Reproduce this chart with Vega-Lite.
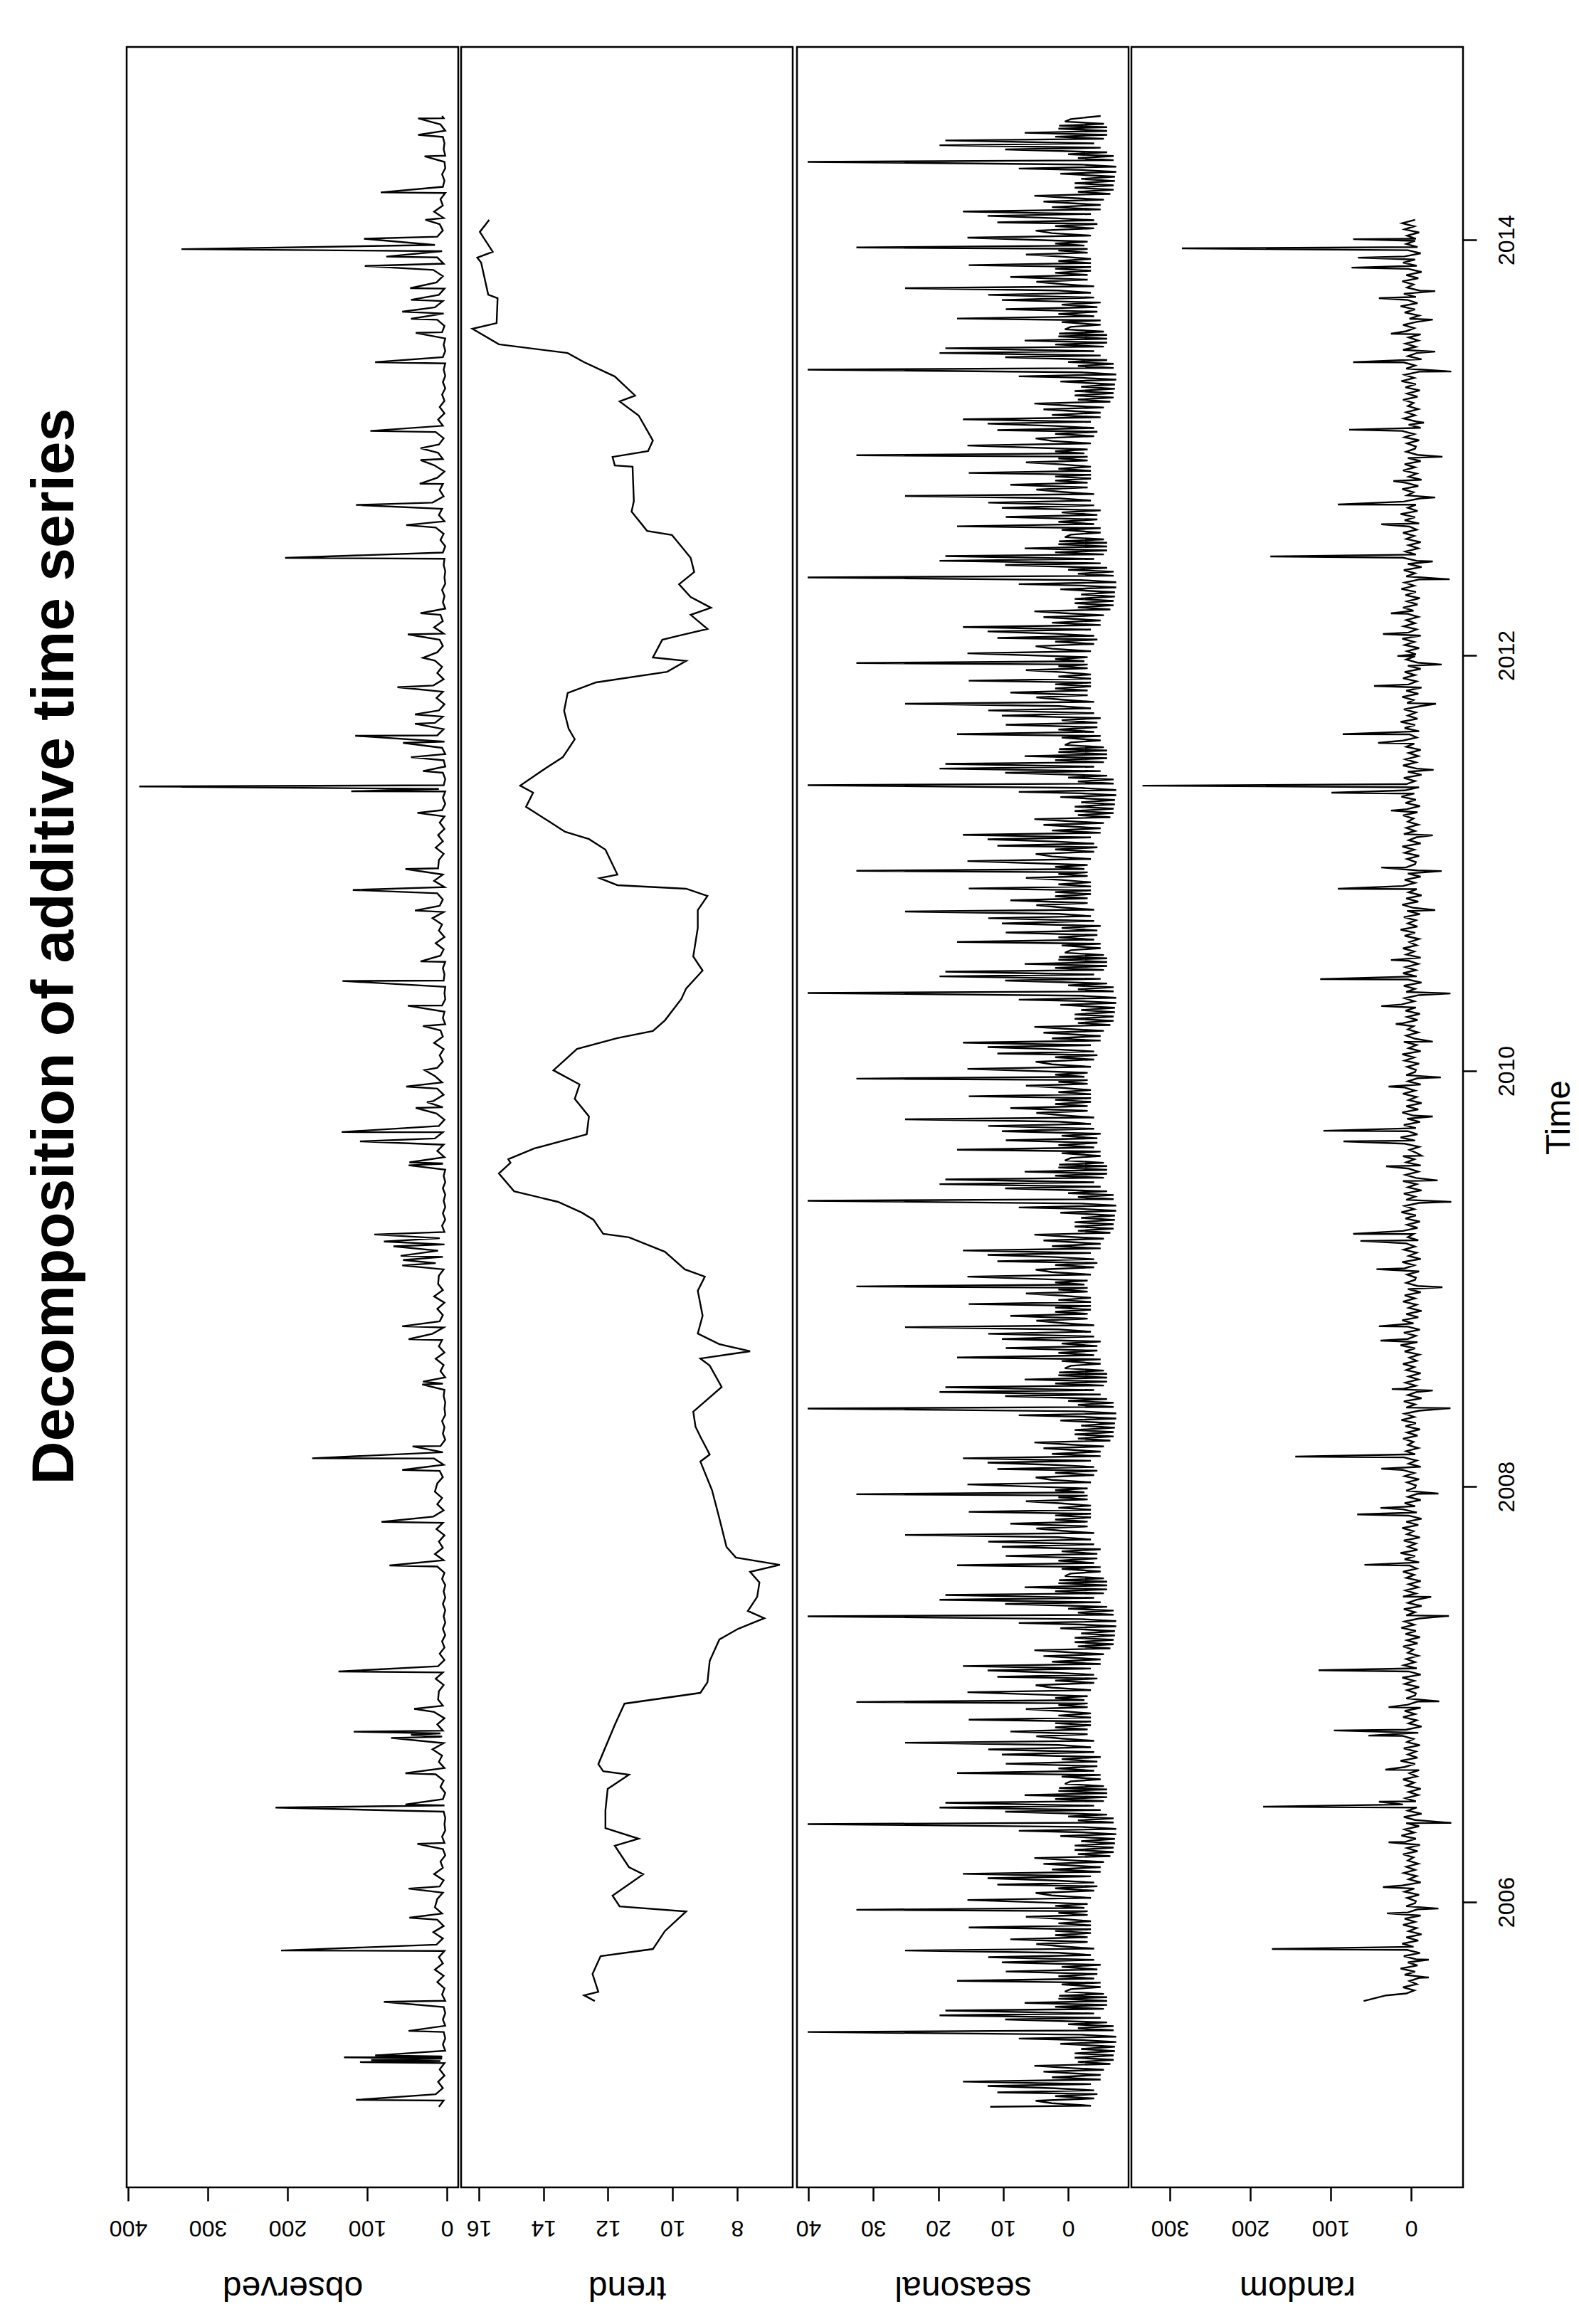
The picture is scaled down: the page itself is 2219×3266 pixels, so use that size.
{
"$schema":"https://vega.github.io/schema/vega-lite/v6.json",
"background":"white",
"padding":{"left":36,"top":64,"right":10,"bottom":30},
"title":{"text":"Decomposition of additive time series","orient":"left","anchor":"middle","frame":"group","font":"Liberation Sans","fontSize":84,"fontWeight":"bold","color":"black","baseline":"alphabetic","offset":-35,"dx":240},
"spacing":0,
"config":{"font":"Liberation Sans","view":{"stroke":"black","strokeWidth":2.5},"axis":{"grid":false,"domain":false,"ticks":true,"tickColor":"black","tickWidth":2.5,"tickSize":19,"labelColor":"black","titleColor":"black","labelFont":"Liberation Sans","titleFont":"Liberation Sans","labelFontSize":32,"titleFontSize":48,"titleFontWeight":"normal","labelFlush":false,"labelOverlap":false}},
"datasets":{
"trend":[{"t":2005.524,"v":12.41},{"t":2005.551,"v":12.74},{"t":2005.568,"v":12.3},{"t":2005.654,"v":12.48},{"t":2005.74,"v":12.23},{"t":2005.774,"v":10.61},{"t":2005.86,"v":10.24},{"t":2005.955,"v":9.58},{"t":2005.979,"v":11.64},{"t":2006.031,"v":11.86},{"t":2006.134,"v":10.91},{"t":2006.168,"v":11.35},{"t":2006.271,"v":11.79},{"t":2006.305,"v":11.05},{"t":2006.356,"v":12.08},{"t":2006.442,"v":12.08},{"t":2006.545,"v":12.01},{"t":2006.613,"v":11.35},{"t":2006.63,"v":12.15},{"t":2006.664,"v":12.3},{"t":2006.853,"v":11.79},{"t":2006.955,"v":11.49},{"t":2007.007,"v":9.14},{"t":2007.058,"v":8.92},{"t":2007.161,"v":8.85},{"t":2007.264,"v":8.55},{"t":2007.315,"v":7.97},{"t":2007.366,"v":7.16},{"t":2007.401,"v":7.67},{"t":2007.469,"v":7.38},{"t":2007.538,"v":7.31},{"t":2007.589,"v":7.6},{"t":2007.623,"v":6.68},{"t":2007.658,"v":8.04},{"t":2007.709,"v":8.33},{"t":2007.846,"v":8.55},{"t":2007.983,"v":8.78},{"t":2008.12,"v":9.14},{"t":2008.154,"v":8.85},{"t":2008.24,"v":9.14},{"t":2008.288,"v":9.29},{"t":2008.36,"v":9.36},{"t":2008.479,"v":8.48},{"t":2008.582,"v":8.85},{"t":2008.616,"v":9.14},{"t":2008.651,"v":7.6},{"t":2008.685,"v":8.55},{"t":2008.736,"v":9.22},{"t":2008.822,"v":9.07},{"t":2008.942,"v":9.22},{"t":2009.01,"v":9.0},{"t":2009.045,"v":9.62},{"t":2009.13,"v":10.24},{"t":2009.199,"v":11.35},{"t":2009.216,"v":12.15},{"t":2009.284,"v":12.45},{"t":2009.318,"v":12.81},{"t":2009.37,"v":13.55},{"t":2009.421,"v":14.91},{"t":2009.507,"v":15.38},{"t":2009.558,"v":15.02},{"t":2009.575,"v":15.09},{"t":2009.627,"v":14.28},{"t":2009.695,"v":12.66},{"t":2009.781,"v":12.59},{"t":2009.866,"v":13.03},{"t":2009.935,"v":12.88},{"t":2010.003,"v":13.69},{"t":2010.106,"v":12.96},{"t":2010.158,"v":11.71},{"t":2010.192,"v":10.61},{"t":2010.243,"v":10.24},{"t":2010.346,"v":9.73},{"t":2010.397,"v":9.58},{"t":2010.483,"v":9.07},{"t":2010.551,"v":9.36},{"t":2010.688,"v":9.22},{"t":2010.774,"v":9.22},{"t":2010.842,"v":8.92},{"t":2010.877,"v":9.58},{"t":2010.894,"v":11.71},{"t":2010.928,"v":12.26},{"t":2010.945,"v":11.71},{"t":2011.065,"v":12.08},{"t":2011.116,"v":12.59},{"t":2011.151,"v":13.33},{"t":2011.202,"v":13.84},{"t":2011.271,"v":14.54},{"t":2011.339,"v":14.32},{"t":2011.373,"v":14.72},{"t":2011.459,"v":13.91},{"t":2011.51,"v":13.4},{"t":2011.596,"v":13.03},{"t":2011.647,"v":13.22},{"t":2011.733,"v":13.36},{"t":2011.819,"v":13.25},{"t":2011.87,"v":12.37},{"t":2011.921,"v":10.17},{"t":2011.973,"v":9.58},{"t":2011.99,"v":10.61},{"t":2012.075,"v":10.32},{"t":2012.092,"v":9.88},{"t":2012.127,"v":8.92},{"t":2012.195,"v":9.44},{"t":2012.229,"v":8.81},{"t":2012.281,"v":9.44},{"t":2012.342,"v":9.8},{"t":2012.401,"v":9.33},{"t":2012.469,"v":9.44},{"t":2012.538,"v":9.8},{"t":2012.579,"v":10.02},{"t":2012.599,"v":10.79},{"t":2012.692,"v":11.27},{"t":2012.743,"v":11.2},{"t":2012.908,"v":11.24},{"t":2012.914,"v":11.79},{"t":2012.955,"v":11.86},{"t":2012.983,"v":10.76},{"t":2013.034,"v":10.61},{"t":2013.154,"v":11.05},{"t":2013.222,"v":11.64},{"t":2013.25,"v":11.16},{"t":2013.342,"v":11.79},{"t":2013.411,"v":12.74},{"t":2013.455,"v":13.25},{"t":2013.497,"v":15.38},{"t":2013.572,"v":16.2},{"t":2013.599,"v":15.45},{"t":2013.719,"v":15.42},{"t":2013.736,"v":15.71},{"t":2013.89,"v":15.93},{"t":2013.914,"v":16.05},{"t":2013.942,"v":15.57},{"t":2014.038,"v":15.97},{"t":2014.096,"v":15.68}],
"observed":[
{"t":2005.015,"v":10},{"t":2005.045,"v":4},{"t":2005.075,"v":14},{"t":2005.105,"v":5},{"t":2005.135,"v":11},{"t":2005.165,"v":3},{"t":2005.195,"v":9},{"t":2005.225,"v":3},{"t":2005.255,"v":6},{"t":2005.285,"v":2},{"t":2005.315,"v":5},{"t":2005.345,"v":2},{"t":2005.375,"v":4},{"t":2005.405,"v":2},{"t":2005.435,"v":5},{"t":2005.465,"v":2},{"t":2005.495,"v":4},{"t":2005.525,"v":2},{"t":2005.555,"v":6},{"t":2005.585,"v":3},{"t":2005.615,"v":12},{"t":2005.645,"v":4},{"t":2005.675,"v":15},{"t":2005.705,"v":5},{"t":2005.735,"v":10},{"t":2005.765,"v":3},{"t":2005.795,"v":13},{"t":2005.825,"v":5},{"t":2005.855,"v":17},{"t":2005.885,"v":4},{"t":2005.915,"v":12},{"t":2005.945,"v":6},{"t":2005.975,"v":15},
{"t":2006.015,"v":12},{"t":2006.045,"v":5},{"t":2006.075,"v":9},{"t":2006.105,"v":4},{"t":2006.135,"v":16},{"t":2006.165,"v":5},{"t":2006.195,"v":8},{"t":2006.225,"v":2},{"t":2006.255,"v":5},{"t":2006.285,"v":3},{"t":2006.315,"v":6},{"t":2006.345,"v":2},{"t":2006.375,"v":3},{"t":2006.405,"v":2},{"t":2006.435,"v":4},{"t":2006.465,"v":3},{"t":2006.495,"v":5},{"t":2006.525,"v":2},{"t":2006.555,"v":8},{"t":2006.585,"v":4},{"t":2006.615,"v":14},{"t":2006.645,"v":3},{"t":2006.675,"v":10},{"t":2006.705,"v":6},{"t":2006.735,"v":18},{"t":2006.765,"v":4},{"t":2006.795,"v":9},{"t":2006.825,"v":5},{"t":2006.855,"v":12},{"t":2006.885,"v":3},{"t":2006.915,"v":16},{"t":2006.945,"v":5},{"t":2006.975,"v":11},
{"t":2007.015,"v":10},{"t":2007.045,"v":4},{"t":2007.075,"v":14},{"t":2007.105,"v":5},{"t":2007.135,"v":11},{"t":2007.165,"v":3},{"t":2007.195,"v":9},{"t":2007.225,"v":3},{"t":2007.255,"v":6},{"t":2007.285,"v":2},{"t":2007.315,"v":5},{"t":2007.345,"v":2},{"t":2007.375,"v":4},{"t":2007.405,"v":2},{"t":2007.435,"v":5},{"t":2007.465,"v":2},{"t":2007.495,"v":4},{"t":2007.525,"v":2},{"t":2007.555,"v":6},{"t":2007.585,"v":3},{"t":2007.615,"v":12},{"t":2007.645,"v":4},{"t":2007.675,"v":15},{"t":2007.705,"v":5},{"t":2007.735,"v":10},{"t":2007.765,"v":3},{"t":2007.795,"v":13},{"t":2007.825,"v":5},{"t":2007.855,"v":17},{"t":2007.885,"v":4},{"t":2007.915,"v":12},{"t":2007.945,"v":6},{"t":2007.975,"v":15},
{"t":2008.015,"v":12},{"t":2008.045,"v":5},{"t":2008.075,"v":9},{"t":2008.105,"v":4},{"t":2008.135,"v":16},{"t":2008.165,"v":5},{"t":2008.195,"v":8},{"t":2008.225,"v":2},{"t":2008.255,"v":5},{"t":2008.285,"v":3},{"t":2008.315,"v":6},{"t":2008.345,"v":2},{"t":2008.375,"v":3},{"t":2008.405,"v":2},{"t":2008.435,"v":4},{"t":2008.465,"v":3},{"t":2008.495,"v":5},{"t":2008.525,"v":2},{"t":2008.555,"v":8},{"t":2008.585,"v":4},{"t":2008.615,"v":14},{"t":2008.645,"v":3},{"t":2008.675,"v":10},{"t":2008.705,"v":6},{"t":2008.735,"v":18},{"t":2008.765,"v":4},{"t":2008.795,"v":9},{"t":2008.825,"v":5},{"t":2008.855,"v":12},{"t":2008.885,"v":3},{"t":2008.915,"v":16},{"t":2008.945,"v":5},{"t":2008.975,"v":11},
{"t":2009.015,"v":10},{"t":2009.045,"v":4},{"t":2009.075,"v":14},{"t":2009.105,"v":5},{"t":2009.135,"v":11},{"t":2009.165,"v":3},{"t":2009.195,"v":9},{"t":2009.225,"v":3},{"t":2009.255,"v":6},{"t":2009.285,"v":2},{"t":2009.315,"v":5},{"t":2009.345,"v":2},{"t":2009.375,"v":4},{"t":2009.405,"v":2},{"t":2009.435,"v":5},{"t":2009.465,"v":2},{"t":2009.495,"v":4},{"t":2009.525,"v":2},{"t":2009.555,"v":6},{"t":2009.585,"v":3},{"t":2009.615,"v":12},{"t":2009.645,"v":4},{"t":2009.675,"v":15},{"t":2009.705,"v":5},{"t":2009.735,"v":10},{"t":2009.765,"v":3},{"t":2009.795,"v":13},{"t":2009.825,"v":5},{"t":2009.855,"v":17},{"t":2009.885,"v":4},{"t":2009.915,"v":12},{"t":2009.945,"v":6},{"t":2009.975,"v":15},
{"t":2010.015,"v":12},{"t":2010.045,"v":5},{"t":2010.075,"v":9},{"t":2010.105,"v":4},{"t":2010.135,"v":16},{"t":2010.165,"v":5},{"t":2010.195,"v":8},{"t":2010.225,"v":2},{"t":2010.255,"v":5},{"t":2010.285,"v":3},{"t":2010.315,"v":6},{"t":2010.345,"v":2},{"t":2010.375,"v":3},{"t":2010.405,"v":2},{"t":2010.435,"v":4},{"t":2010.465,"v":3},{"t":2010.495,"v":5},{"t":2010.525,"v":2},{"t":2010.555,"v":8},{"t":2010.585,"v":4},{"t":2010.615,"v":14},{"t":2010.645,"v":3},{"t":2010.675,"v":10},{"t":2010.705,"v":6},{"t":2010.735,"v":18},{"t":2010.765,"v":4},{"t":2010.795,"v":9},{"t":2010.825,"v":5},{"t":2010.855,"v":12},{"t":2010.885,"v":3},{"t":2010.915,"v":16},{"t":2010.945,"v":5},{"t":2010.975,"v":11},
{"t":2011.015,"v":10},{"t":2011.045,"v":4},{"t":2011.075,"v":14},{"t":2011.105,"v":5},{"t":2011.135,"v":11},{"t":2011.165,"v":3},{"t":2011.195,"v":9},{"t":2011.225,"v":3},{"t":2011.255,"v":6},{"t":2011.285,"v":2},{"t":2011.315,"v":5},{"t":2011.345,"v":2},{"t":2011.375,"v":4},{"t":2011.405,"v":2},{"t":2011.435,"v":5},{"t":2011.465,"v":2},{"t":2011.495,"v":4},{"t":2011.525,"v":2},{"t":2011.555,"v":6},{"t":2011.585,"v":3},{"t":2011.615,"v":12},{"t":2011.645,"v":4},{"t":2011.675,"v":15},{"t":2011.705,"v":5},{"t":2011.735,"v":10},{"t":2011.765,"v":3},{"t":2011.795,"v":13},{"t":2011.825,"v":5},{"t":2011.855,"v":17},{"t":2011.885,"v":4},{"t":2011.915,"v":12},{"t":2011.945,"v":6},{"t":2011.975,"v":15},
{"t":2012.015,"v":12},{"t":2012.045,"v":5},{"t":2012.075,"v":9},{"t":2012.105,"v":4},{"t":2012.135,"v":16},{"t":2012.165,"v":5},{"t":2012.195,"v":8},{"t":2012.225,"v":2},{"t":2012.255,"v":5},{"t":2012.285,"v":3},{"t":2012.315,"v":6},{"t":2012.345,"v":2},{"t":2012.375,"v":3},{"t":2012.405,"v":2},{"t":2012.435,"v":4},{"t":2012.465,"v":3},{"t":2012.495,"v":5},{"t":2012.525,"v":2},{"t":2012.555,"v":8},{"t":2012.585,"v":4},{"t":2012.615,"v":14},{"t":2012.645,"v":3},{"t":2012.675,"v":10},{"t":2012.705,"v":6},{"t":2012.735,"v":18},{"t":2012.765,"v":4},{"t":2012.795,"v":9},{"t":2012.825,"v":5},{"t":2012.855,"v":12},{"t":2012.885,"v":3},{"t":2012.915,"v":16},{"t":2012.945,"v":5},{"t":2012.975,"v":11},
{"t":2013.015,"v":10},{"t":2013.045,"v":4},{"t":2013.075,"v":14},{"t":2013.105,"v":5},{"t":2013.135,"v":11},{"t":2013.165,"v":3},{"t":2013.195,"v":9},{"t":2013.225,"v":3},{"t":2013.255,"v":6},{"t":2013.285,"v":2},{"t":2013.315,"v":5},{"t":2013.345,"v":2},{"t":2013.375,"v":4},{"t":2013.405,"v":2},{"t":2013.435,"v":5},{"t":2013.465,"v":2},{"t":2013.495,"v":4},{"t":2013.525,"v":2},{"t":2013.555,"v":6},{"t":2013.585,"v":3},{"t":2013.615,"v":12},{"t":2013.645,"v":4},{"t":2013.675,"v":15},{"t":2013.705,"v":5},{"t":2013.735,"v":10},{"t":2013.765,"v":3},{"t":2013.795,"v":13},{"t":2013.825,"v":5},{"t":2013.855,"v":17},{"t":2013.885,"v":4},{"t":2013.915,"v":12},{"t":2013.945,"v":6},{"t":2013.975,"v":15},
{"t":2014.015,"v":12},{"t":2014.045,"v":5},{"t":2014.075,"v":9},{"t":2014.105,"v":4},{"t":2014.135,"v":16},{"t":2014.165,"v":5},{"t":2014.195,"v":8},{"t":2014.225,"v":2},{"t":2014.255,"v":5},{"t":2014.285,"v":3},{"t":2014.315,"v":6},{"t":2014.345,"v":2},{"t":2014.375,"v":3},{"t":2014.405,"v":2},{"t":2014.435,"v":4},{"t":2014.465,"v":3},{"t":2014.495,"v":5},{"t":2014.525,"v":2},{"t":2014.555,"v":8},{"t":2014.585,"v":4},{"t":2014.596,"v":6},
{"t":2005.048,"v":114},{"t":2005.23,"v":109},{"t":2005.235,"v":8},{"t":2005.24,"v":95},{"t":2005.247,"v":6},{"t":2005.253,"v":129},{"t":2005.257,"v":7},{"t":2005.262,"v":90},{"t":2005.38,"v":48},{"t":2005.52,"v":79},{"t":2005.767,"v":208},{"t":2005.925,"v":47},{"t":2006.065,"v":48},{"t":2006.28,"v":37},{"t":2006.455,"v":215},{"t":2006.47,"v":52},{"t":2006.62,"v":52},{"t":2006.79,"v":70},{"t":2006.797,"v":6},{"t":2006.805,"v":45},{"t":2006.812,"v":8},{"t":2006.82,"v":117},{"t":2006.93,"v":41},{"t":2007.11,"v":136},{"t":2007.62,"v":72},{"t":2007.83,"v":82},{"t":2008.08,"v":56},{"t":2008.136,"v":169},{"t":2008.193,"v":43},{"t":2008.491,"v":31},{"t":2008.505,"v":30},{"t":2008.709,"v":48},{"t":2008.771,"v":56},{"t":2009.064,"v":56},{"t":2009.09,"v":55},{"t":2009.11,"v":58},{"t":2009.156,"v":67},{"t":2009.179,"v":79},{"t":2009.213,"v":91},{"t":2009.546,"v":48},{"t":2009.553,"v":6},{"t":2009.56,"v":47},{"t":2009.661,"v":109},{"t":2009.706,"v":132},{"t":2009.822,"v":39},{"t":2009.85,"v":25},{"t":2009.925,"v":51},{"t":2010.004,"v":28},{"t":2010.216,"v":30},{"t":2010.314,"v":49},{"t":2010.433,"v":131},{"t":2010.527,"v":33},{"t":2010.772,"v":40},{"t":2010.871,"v":118},{"t":2010.972,"v":52},{"t":2011.242,"v":37},{"t":2011.346,"v":120},{"t":2011.357,"v":10},{"t":2011.369,"v":386},{"t":2011.443,"v":30},{"t":2011.51,"v":45},{"t":2011.579,"v":55},{"t":2011.613,"v":115},{"t":2011.671,"v":40},{"t":2011.716,"v":40},{"t":2011.847,"v":62},{"t":2011.988,"v":30},{"t":2012.101,"v":49},{"t":2012.203,"v":33},{"t":2012.469,"v":203},{"t":2012.627,"v":51},{"t":2012.724,"v":114},{"t":2012.826,"v":34},{"t":2012.94,"v":33},{"t":2012.997,"v":33},{"t":2013.08,"v":96},{"t":2013.411,"v":90},{"t":2013.552,"v":39},{"t":2013.62,"v":45},{"t":2013.654,"v":56},{"t":2013.711,"v":45},{"t":2013.767,"v":46},{"t":2013.874,"v":103},{"t":2013.919,"v":76},{"t":2013.955,"v":333},{"t":2014.005,"v":104},{"t":2014.096,"v":27},{"t":2014.228,"v":83},{"t":2014.402,"v":28},{"t":2014.505,"v":36},{"t":2014.584,"v":36}],
"seasonal":[
{"t":2005.015,"v":12},{"t":2005.02,"v":-3.5},{"t":2005.032,"v":2.5},{"t":2005.044,"v":5},{"t":2005.055,"v":-4},{"t":2005.066,"v":2},{"t":2005.076,"v":-4.5},{"t":2005.084,"v":10.9},{"t":2005.094,"v":-4},{"t":2005.104,"v":2},{"t":2005.115,"v":12.4},{"t":2005.124,"v":-3.5},{"t":2005.136,"v":16.2},{"t":2005.146,"v":-5},{"t":2005.157,"v":2.5},{"t":2005.168,"v":-5},{"t":2005.184,"v":3.8},{"t":2005.193,"v":-5.5},{"t":2005.202,"v":0},{"t":2005.212,"v":5.2},{"t":2005.221,"v":-6.5},{"t":2005.231,"v":-1.5},{"t":2005.241,"v":-7},{"t":2005.251,"v":-1},{"t":2005.262,"v":-7},{"t":2005.272,"v":-1},{"t":2005.283,"v":-7.2},{"t":2005.293,"v":-2},{"t":2005.304,"v":-7.2},{"t":2005.318,"v":1.2},{"t":2005.327,"v":-7.4},{"t":2005.336,"v":-2},{"t":2005.343,"v":7.6},{"t":2005.352,"v":-7.4},{"t":2005.362,"v":-2},{"t":2005.375,"v":40.1},{"t":2005.383,"v":-7},{"t":2005.393,"v":-1.5},{"t":2005.403,"v":-7},{"t":2005.412,"v":0},{"t":2005.421,"v":-6},{"t":2005.435,"v":9.7},{"t":2005.443,"v":-5},{"t":2005.455,"v":19.8},{"t":2005.464,"v":-4},{"t":2005.478,"v":18.9},{"t":2005.486,"v":-5.5},{"t":2005.496,"v":2},{"t":2005.505,"v":-6},{"t":2005.515,"v":6.7},{"t":2005.524,"v":-6},{"t":2005.535,"v":1.5},{"t":2005.542,"v":-6},{"t":2005.549,"v":1.4},{"t":2005.558,"v":-5.5},{"t":2005.569,"v":0.5},{"t":2005.581,"v":-0.4},{"t":2005.591,"v":-5},{"t":2005.604,"v":1},{"t":2005.612,"v":-5},{"t":2005.621,"v":17.1},{"t":2005.632,"v":-4},{"t":2005.643,"v":1.5},{"t":2005.654,"v":-4.5},{"t":2005.666,"v":9.6},{"t":2005.676,"v":-4.5},{"t":2005.688,"v":1},{"t":2005.698,"v":-5},{"t":2005.71,"v":10.2},{"t":2005.722,"v":-4},{"t":2005.735,"v":12.3},{"t":2005.745,"v":-3.5},{"t":2005.756,"v":1.5},{"t":2005.767,"v":25.1},{"t":2005.776,"v":-4},{"t":2005.787,"v":1},{"t":2005.798,"v":4.9},{"t":2005.808,"v":-3},{"t":2005.821,"v":8.9},{"t":2005.831,"v":-3},{"t":2005.841,"v":2},{"t":2005.851,"v":-3.5},{"t":2005.861,"v":2},{"t":2005.869,"v":-3.5},{"t":2005.878,"v":15.3},{"t":2005.888,"v":-3.5},{"t":2005.898,"v":1.5},{"t":2005.908,"v":-3.5},{"t":2005.919,"v":1},{"t":2005.929,"v":6.5},{"t":2005.938,"v":-3},{"t":2005.948,"v":1.5},{"t":2005.956,"v":-3},{"t":2005.963,"v":32.6},{"t":2005.972,"v":-2.5},{"t":2005.982,"v":2},{"t":2005.991,"v":-3},
{"t":2006.01,"v":15.5},{"t":2006.02,"v":-3.5},{"t":2006.032,"v":2.5},{"t":2006.044,"v":5},{"t":2006.055,"v":-4},{"t":2006.066,"v":2},{"t":2006.076,"v":-4.5},{"t":2006.084,"v":10.9},{"t":2006.094,"v":-4},{"t":2006.104,"v":2},{"t":2006.115,"v":12.4},{"t":2006.124,"v":-3.5},{"t":2006.136,"v":16.2},{"t":2006.146,"v":-5},{"t":2006.157,"v":2.5},{"t":2006.168,"v":-5},{"t":2006.184,"v":3.8},{"t":2006.193,"v":-5.5},{"t":2006.202,"v":0},{"t":2006.212,"v":5.2},{"t":2006.221,"v":-6.5},{"t":2006.231,"v":-1.5},{"t":2006.241,"v":-7},{"t":2006.251,"v":-1},{"t":2006.262,"v":-7},{"t":2006.272,"v":-1},{"t":2006.283,"v":-7.2},{"t":2006.293,"v":-2},{"t":2006.304,"v":-7.2},{"t":2006.318,"v":1.2},{"t":2006.327,"v":-7.4},{"t":2006.336,"v":-2},{"t":2006.343,"v":7.6},{"t":2006.352,"v":-7.4},{"t":2006.362,"v":-2},{"t":2006.375,"v":40.1},{"t":2006.383,"v":-7},{"t":2006.393,"v":-1.5},{"t":2006.403,"v":-7},{"t":2006.412,"v":0},{"t":2006.421,"v":-6},{"t":2006.435,"v":9.7},{"t":2006.443,"v":-5},{"t":2006.455,"v":19.8},{"t":2006.464,"v":-4},{"t":2006.478,"v":18.9},{"t":2006.486,"v":-5.5},{"t":2006.496,"v":2},{"t":2006.505,"v":-6},{"t":2006.515,"v":6.7},{"t":2006.524,"v":-6},{"t":2006.535,"v":1.5},{"t":2006.542,"v":-6},{"t":2006.549,"v":1.4},{"t":2006.558,"v":-5.5},{"t":2006.569,"v":0.5},{"t":2006.581,"v":-0.4},{"t":2006.591,"v":-5},{"t":2006.604,"v":1},{"t":2006.612,"v":-5},{"t":2006.621,"v":17.1},{"t":2006.632,"v":-4},{"t":2006.643,"v":1.5},{"t":2006.654,"v":-4.5},{"t":2006.666,"v":9.6},{"t":2006.676,"v":-4.5},{"t":2006.688,"v":1},{"t":2006.698,"v":-5},{"t":2006.71,"v":10.2},{"t":2006.722,"v":-4},{"t":2006.735,"v":12.3},{"t":2006.745,"v":-3.5},{"t":2006.756,"v":1.5},{"t":2006.767,"v":25.1},{"t":2006.776,"v":-4},{"t":2006.787,"v":1},{"t":2006.798,"v":4.9},{"t":2006.808,"v":-3},{"t":2006.821,"v":8.9},{"t":2006.831,"v":-3},{"t":2006.841,"v":2},{"t":2006.851,"v":-3.5},{"t":2006.861,"v":2},{"t":2006.869,"v":-3.5},{"t":2006.878,"v":15.3},{"t":2006.888,"v":-3.5},{"t":2006.898,"v":1.5},{"t":2006.908,"v":-3.5},{"t":2006.919,"v":1},{"t":2006.929,"v":6.5},{"t":2006.938,"v":-3},{"t":2006.948,"v":1.5},{"t":2006.956,"v":-3},{"t":2006.963,"v":32.6},{"t":2006.972,"v":-2.5},{"t":2006.982,"v":2},{"t":2006.991,"v":-3},
{"t":2007.01,"v":15.5},{"t":2007.02,"v":-3.5},{"t":2007.032,"v":2.5},{"t":2007.044,"v":5},{"t":2007.055,"v":-4},{"t":2007.066,"v":2},{"t":2007.076,"v":-4.5},{"t":2007.084,"v":10.9},{"t":2007.094,"v":-4},{"t":2007.104,"v":2},{"t":2007.115,"v":12.4},{"t":2007.124,"v":-3.5},{"t":2007.136,"v":16.2},{"t":2007.146,"v":-5},{"t":2007.157,"v":2.5},{"t":2007.168,"v":-5},{"t":2007.184,"v":3.8},{"t":2007.193,"v":-5.5},{"t":2007.202,"v":0},{"t":2007.212,"v":5.2},{"t":2007.221,"v":-6.5},{"t":2007.231,"v":-1.5},{"t":2007.241,"v":-7},{"t":2007.251,"v":-1},{"t":2007.262,"v":-7},{"t":2007.272,"v":-1},{"t":2007.283,"v":-7.2},{"t":2007.293,"v":-2},{"t":2007.304,"v":-7.2},{"t":2007.318,"v":1.2},{"t":2007.327,"v":-7.4},{"t":2007.336,"v":-2},{"t":2007.343,"v":7.6},{"t":2007.352,"v":-7.4},{"t":2007.362,"v":-2},{"t":2007.375,"v":40.1},{"t":2007.383,"v":-7},{"t":2007.393,"v":-1.5},{"t":2007.403,"v":-7},{"t":2007.412,"v":0},{"t":2007.421,"v":-6},{"t":2007.435,"v":9.7},{"t":2007.443,"v":-5},{"t":2007.455,"v":19.8},{"t":2007.464,"v":-4},{"t":2007.478,"v":18.9},{"t":2007.486,"v":-5.5},{"t":2007.496,"v":2},{"t":2007.505,"v":-6},{"t":2007.515,"v":6.7},{"t":2007.524,"v":-6},{"t":2007.535,"v":1.5},{"t":2007.542,"v":-6},{"t":2007.549,"v":1.4},{"t":2007.558,"v":-5.5},{"t":2007.569,"v":0.5},{"t":2007.581,"v":-0.4},{"t":2007.591,"v":-5},{"t":2007.604,"v":1},{"t":2007.612,"v":-5},{"t":2007.621,"v":17.1},{"t":2007.632,"v":-4},{"t":2007.643,"v":1.5},{"t":2007.654,"v":-4.5},{"t":2007.666,"v":9.6},{"t":2007.676,"v":-4.5},{"t":2007.688,"v":1},{"t":2007.698,"v":-5},{"t":2007.71,"v":10.2},{"t":2007.722,"v":-4},{"t":2007.735,"v":12.3},{"t":2007.745,"v":-3.5},{"t":2007.756,"v":1.5},{"t":2007.767,"v":25.1},{"t":2007.776,"v":-4},{"t":2007.787,"v":1},{"t":2007.798,"v":4.9},{"t":2007.808,"v":-3},{"t":2007.821,"v":8.9},{"t":2007.831,"v":-3},{"t":2007.841,"v":2},{"t":2007.851,"v":-3.5},{"t":2007.861,"v":2},{"t":2007.869,"v":-3.5},{"t":2007.878,"v":15.3},{"t":2007.888,"v":-3.5},{"t":2007.898,"v":1.5},{"t":2007.908,"v":-3.5},{"t":2007.919,"v":1},{"t":2007.929,"v":6.5},{"t":2007.938,"v":-3},{"t":2007.948,"v":1.5},{"t":2007.956,"v":-3},{"t":2007.963,"v":32.6},{"t":2007.972,"v":-2.5},{"t":2007.982,"v":2},{"t":2007.991,"v":-3},
{"t":2008.01,"v":15.5},{"t":2008.02,"v":-3.5},{"t":2008.032,"v":2.5},{"t":2008.044,"v":5},{"t":2008.055,"v":-4},{"t":2008.066,"v":2},{"t":2008.076,"v":-4.5},{"t":2008.084,"v":10.9},{"t":2008.094,"v":-4},{"t":2008.104,"v":2},{"t":2008.115,"v":12.4},{"t":2008.124,"v":-3.5},{"t":2008.136,"v":16.2},{"t":2008.146,"v":-5},{"t":2008.157,"v":2.5},{"t":2008.168,"v":-5},{"t":2008.184,"v":3.8},{"t":2008.193,"v":-5.5},{"t":2008.202,"v":0},{"t":2008.212,"v":5.2},{"t":2008.221,"v":-6.5},{"t":2008.231,"v":-1.5},{"t":2008.241,"v":-7},{"t":2008.251,"v":-1},{"t":2008.262,"v":-7},{"t":2008.272,"v":-1},{"t":2008.283,"v":-7.2},{"t":2008.293,"v":-2},{"t":2008.304,"v":-7.2},{"t":2008.318,"v":1.2},{"t":2008.327,"v":-7.4},{"t":2008.336,"v":-2},{"t":2008.343,"v":7.6},{"t":2008.352,"v":-7.4},{"t":2008.362,"v":-2},{"t":2008.375,"v":40.1},{"t":2008.383,"v":-7},{"t":2008.393,"v":-1.5},{"t":2008.403,"v":-7},{"t":2008.412,"v":0},{"t":2008.421,"v":-6},{"t":2008.435,"v":9.7},{"t":2008.443,"v":-5},{"t":2008.455,"v":19.8},{"t":2008.464,"v":-4},{"t":2008.478,"v":18.9},{"t":2008.486,"v":-5.5},{"t":2008.496,"v":2},{"t":2008.505,"v":-6},{"t":2008.515,"v":6.7},{"t":2008.524,"v":-6},{"t":2008.535,"v":1.5},{"t":2008.542,"v":-6},{"t":2008.549,"v":1.4},{"t":2008.558,"v":-5.5},{"t":2008.569,"v":0.5},{"t":2008.581,"v":-0.4},{"t":2008.591,"v":-5},{"t":2008.604,"v":1},{"t":2008.612,"v":-5},{"t":2008.621,"v":17.1},{"t":2008.632,"v":-4},{"t":2008.643,"v":1.5},{"t":2008.654,"v":-4.5},{"t":2008.666,"v":9.6},{"t":2008.676,"v":-4.5},{"t":2008.688,"v":1},{"t":2008.698,"v":-5},{"t":2008.71,"v":10.2},{"t":2008.722,"v":-4},{"t":2008.735,"v":12.3},{"t":2008.745,"v":-3.5},{"t":2008.756,"v":1.5},{"t":2008.767,"v":25.1},{"t":2008.776,"v":-4},{"t":2008.787,"v":1},{"t":2008.798,"v":4.9},{"t":2008.808,"v":-3},{"t":2008.821,"v":8.9},{"t":2008.831,"v":-3},{"t":2008.841,"v":2},{"t":2008.851,"v":-3.5},{"t":2008.861,"v":2},{"t":2008.869,"v":-3.5},{"t":2008.878,"v":15.3},{"t":2008.888,"v":-3.5},{"t":2008.898,"v":1.5},{"t":2008.908,"v":-3.5},{"t":2008.919,"v":1},{"t":2008.929,"v":6.5},{"t":2008.938,"v":-3},{"t":2008.948,"v":1.5},{"t":2008.956,"v":-3},{"t":2008.963,"v":32.6},{"t":2008.972,"v":-2.5},{"t":2008.982,"v":2},{"t":2008.991,"v":-3},
{"t":2009.01,"v":15.5},{"t":2009.02,"v":-3.5},{"t":2009.032,"v":2.5},{"t":2009.044,"v":5},{"t":2009.055,"v":-4},{"t":2009.066,"v":2},{"t":2009.076,"v":-4.5},{"t":2009.084,"v":10.9},{"t":2009.094,"v":-4},{"t":2009.104,"v":2},{"t":2009.115,"v":12.4},{"t":2009.124,"v":-3.5},{"t":2009.136,"v":16.2},{"t":2009.146,"v":-5},{"t":2009.157,"v":2.5},{"t":2009.168,"v":-5},{"t":2009.184,"v":3.8},{"t":2009.193,"v":-5.5},{"t":2009.202,"v":0},{"t":2009.212,"v":5.2},{"t":2009.221,"v":-6.5},{"t":2009.231,"v":-1.5},{"t":2009.241,"v":-7},{"t":2009.251,"v":-1},{"t":2009.262,"v":-7},{"t":2009.272,"v":-1},{"t":2009.283,"v":-7.2},{"t":2009.293,"v":-2},{"t":2009.304,"v":-7.2},{"t":2009.318,"v":1.2},{"t":2009.327,"v":-7.4},{"t":2009.336,"v":-2},{"t":2009.343,"v":7.6},{"t":2009.352,"v":-7.4},{"t":2009.362,"v":-2},{"t":2009.375,"v":40.1},{"t":2009.383,"v":-7},{"t":2009.393,"v":-1.5},{"t":2009.403,"v":-7},{"t":2009.412,"v":0},{"t":2009.421,"v":-6},{"t":2009.435,"v":9.7},{"t":2009.443,"v":-5},{"t":2009.455,"v":19.8},{"t":2009.464,"v":-4},{"t":2009.478,"v":18.9},{"t":2009.486,"v":-5.5},{"t":2009.496,"v":2},{"t":2009.505,"v":-6},{"t":2009.515,"v":6.7},{"t":2009.524,"v":-6},{"t":2009.535,"v":1.5},{"t":2009.542,"v":-6},{"t":2009.549,"v":1.4},{"t":2009.558,"v":-5.5},{"t":2009.569,"v":0.5},{"t":2009.581,"v":-0.4},{"t":2009.591,"v":-5},{"t":2009.604,"v":1},{"t":2009.612,"v":-5},{"t":2009.621,"v":17.1},{"t":2009.632,"v":-4},{"t":2009.643,"v":1.5},{"t":2009.654,"v":-4.5},{"t":2009.666,"v":9.6},{"t":2009.676,"v":-4.5},{"t":2009.688,"v":1},{"t":2009.698,"v":-5},{"t":2009.71,"v":10.2},{"t":2009.722,"v":-4},{"t":2009.735,"v":12.3},{"t":2009.745,"v":-3.5},{"t":2009.756,"v":1.5},{"t":2009.767,"v":25.1},{"t":2009.776,"v":-4},{"t":2009.787,"v":1},{"t":2009.798,"v":4.9},{"t":2009.808,"v":-3},{"t":2009.821,"v":8.9},{"t":2009.831,"v":-3},{"t":2009.841,"v":2},{"t":2009.851,"v":-3.5},{"t":2009.861,"v":2},{"t":2009.869,"v":-3.5},{"t":2009.878,"v":15.3},{"t":2009.888,"v":-3.5},{"t":2009.898,"v":1.5},{"t":2009.908,"v":-3.5},{"t":2009.919,"v":1},{"t":2009.929,"v":6.5},{"t":2009.938,"v":-3},{"t":2009.948,"v":1.5},{"t":2009.956,"v":-3},{"t":2009.963,"v":32.6},{"t":2009.972,"v":-2.5},{"t":2009.982,"v":2},{"t":2009.991,"v":-3},
{"t":2010.01,"v":15.5},{"t":2010.02,"v":-3.5},{"t":2010.032,"v":2.5},{"t":2010.044,"v":5},{"t":2010.055,"v":-4},{"t":2010.066,"v":2},{"t":2010.076,"v":-4.5},{"t":2010.084,"v":10.9},{"t":2010.094,"v":-4},{"t":2010.104,"v":2},{"t":2010.115,"v":12.4},{"t":2010.124,"v":-3.5},{"t":2010.136,"v":16.2},{"t":2010.146,"v":-5},{"t":2010.157,"v":2.5},{"t":2010.168,"v":-5},{"t":2010.184,"v":3.8},{"t":2010.193,"v":-5.5},{"t":2010.202,"v":0},{"t":2010.212,"v":5.2},{"t":2010.221,"v":-6.5},{"t":2010.231,"v":-1.5},{"t":2010.241,"v":-7},{"t":2010.251,"v":-1},{"t":2010.262,"v":-7},{"t":2010.272,"v":-1},{"t":2010.283,"v":-7.2},{"t":2010.293,"v":-2},{"t":2010.304,"v":-7.2},{"t":2010.318,"v":1.2},{"t":2010.327,"v":-7.4},{"t":2010.336,"v":-2},{"t":2010.343,"v":7.6},{"t":2010.352,"v":-7.4},{"t":2010.362,"v":-2},{"t":2010.375,"v":40.1},{"t":2010.383,"v":-7},{"t":2010.393,"v":-1.5},{"t":2010.403,"v":-7},{"t":2010.412,"v":0},{"t":2010.421,"v":-6},{"t":2010.435,"v":9.7},{"t":2010.443,"v":-5},{"t":2010.455,"v":19.8},{"t":2010.464,"v":-4},{"t":2010.478,"v":18.9},{"t":2010.486,"v":-5.5},{"t":2010.496,"v":2},{"t":2010.505,"v":-6},{"t":2010.515,"v":6.7},{"t":2010.524,"v":-6},{"t":2010.535,"v":1.5},{"t":2010.542,"v":-6},{"t":2010.549,"v":1.4},{"t":2010.558,"v":-5.5},{"t":2010.569,"v":0.5},{"t":2010.581,"v":-0.4},{"t":2010.591,"v":-5},{"t":2010.604,"v":1},{"t":2010.612,"v":-5},{"t":2010.621,"v":17.1},{"t":2010.632,"v":-4},{"t":2010.643,"v":1.5},{"t":2010.654,"v":-4.5},{"t":2010.666,"v":9.6},{"t":2010.676,"v":-4.5},{"t":2010.688,"v":1},{"t":2010.698,"v":-5},{"t":2010.71,"v":10.2},{"t":2010.722,"v":-4},{"t":2010.735,"v":12.3},{"t":2010.745,"v":-3.5},{"t":2010.756,"v":1.5},{"t":2010.767,"v":25.1},{"t":2010.776,"v":-4},{"t":2010.787,"v":1},{"t":2010.798,"v":4.9},{"t":2010.808,"v":-3},{"t":2010.821,"v":8.9},{"t":2010.831,"v":-3},{"t":2010.841,"v":2},{"t":2010.851,"v":-3.5},{"t":2010.861,"v":2},{"t":2010.869,"v":-3.5},{"t":2010.878,"v":15.3},{"t":2010.888,"v":-3.5},{"t":2010.898,"v":1.5},{"t":2010.908,"v":-3.5},{"t":2010.919,"v":1},{"t":2010.929,"v":6.5},{"t":2010.938,"v":-3},{"t":2010.948,"v":1.5},{"t":2010.956,"v":-3},{"t":2010.963,"v":32.6},{"t":2010.972,"v":-2.5},{"t":2010.982,"v":2},{"t":2010.991,"v":-3},
{"t":2011.01,"v":15.5},{"t":2011.02,"v":-3.5},{"t":2011.032,"v":2.5},{"t":2011.044,"v":5},{"t":2011.055,"v":-4},{"t":2011.066,"v":2},{"t":2011.076,"v":-4.5},{"t":2011.084,"v":10.9},{"t":2011.094,"v":-4},{"t":2011.104,"v":2},{"t":2011.115,"v":12.4},{"t":2011.124,"v":-3.5},{"t":2011.136,"v":16.2},{"t":2011.146,"v":-5},{"t":2011.157,"v":2.5},{"t":2011.168,"v":-5},{"t":2011.184,"v":3.8},{"t":2011.193,"v":-5.5},{"t":2011.202,"v":0},{"t":2011.212,"v":5.2},{"t":2011.221,"v":-6.5},{"t":2011.231,"v":-1.5},{"t":2011.241,"v":-7},{"t":2011.251,"v":-1},{"t":2011.262,"v":-7},{"t":2011.272,"v":-1},{"t":2011.283,"v":-7.2},{"t":2011.293,"v":-2},{"t":2011.304,"v":-7.2},{"t":2011.318,"v":1.2},{"t":2011.327,"v":-7.4},{"t":2011.336,"v":-2},{"t":2011.343,"v":7.6},{"t":2011.352,"v":-7.4},{"t":2011.362,"v":-2},{"t":2011.375,"v":40.1},{"t":2011.383,"v":-7},{"t":2011.393,"v":-1.5},{"t":2011.403,"v":-7},{"t":2011.412,"v":0},{"t":2011.421,"v":-6},{"t":2011.435,"v":9.7},{"t":2011.443,"v":-5},{"t":2011.455,"v":19.8},{"t":2011.464,"v":-4},{"t":2011.478,"v":18.9},{"t":2011.486,"v":-5.5},{"t":2011.496,"v":2},{"t":2011.505,"v":-6},{"t":2011.515,"v":6.7},{"t":2011.524,"v":-6},{"t":2011.535,"v":1.5},{"t":2011.542,"v":-6},{"t":2011.549,"v":1.4},{"t":2011.558,"v":-5.5},{"t":2011.569,"v":0.5},{"t":2011.581,"v":-0.4},{"t":2011.591,"v":-5},{"t":2011.604,"v":1},{"t":2011.612,"v":-5},{"t":2011.621,"v":17.1},{"t":2011.632,"v":-4},{"t":2011.643,"v":1.5},{"t":2011.654,"v":-4.5},{"t":2011.666,"v":9.6},{"t":2011.676,"v":-4.5},{"t":2011.688,"v":1},{"t":2011.698,"v":-5},{"t":2011.71,"v":10.2},{"t":2011.722,"v":-4},{"t":2011.735,"v":12.3},{"t":2011.745,"v":-3.5},{"t":2011.756,"v":1.5},{"t":2011.767,"v":25.1},{"t":2011.776,"v":-4},{"t":2011.787,"v":1},{"t":2011.798,"v":4.9},{"t":2011.808,"v":-3},{"t":2011.821,"v":8.9},{"t":2011.831,"v":-3},{"t":2011.841,"v":2},{"t":2011.851,"v":-3.5},{"t":2011.861,"v":2},{"t":2011.869,"v":-3.5},{"t":2011.878,"v":15.3},{"t":2011.888,"v":-3.5},{"t":2011.898,"v":1.5},{"t":2011.908,"v":-3.5},{"t":2011.919,"v":1},{"t":2011.929,"v":6.5},{"t":2011.938,"v":-3},{"t":2011.948,"v":1.5},{"t":2011.956,"v":-3},{"t":2011.963,"v":32.6},{"t":2011.972,"v":-2.5},{"t":2011.982,"v":2},{"t":2011.991,"v":-3},
{"t":2012.01,"v":15.5},{"t":2012.02,"v":-3.5},{"t":2012.032,"v":2.5},{"t":2012.044,"v":5},{"t":2012.055,"v":-4},{"t":2012.066,"v":2},{"t":2012.076,"v":-4.5},{"t":2012.084,"v":10.9},{"t":2012.094,"v":-4},{"t":2012.104,"v":2},{"t":2012.115,"v":12.4},{"t":2012.124,"v":-3.5},{"t":2012.136,"v":16.2},{"t":2012.146,"v":-5},{"t":2012.157,"v":2.5},{"t":2012.168,"v":-5},{"t":2012.184,"v":3.8},{"t":2012.193,"v":-5.5},{"t":2012.202,"v":0},{"t":2012.212,"v":5.2},{"t":2012.221,"v":-6.5},{"t":2012.231,"v":-1.5},{"t":2012.241,"v":-7},{"t":2012.251,"v":-1},{"t":2012.262,"v":-7},{"t":2012.272,"v":-1},{"t":2012.283,"v":-7.2},{"t":2012.293,"v":-2},{"t":2012.304,"v":-7.2},{"t":2012.318,"v":1.2},{"t":2012.327,"v":-7.4},{"t":2012.336,"v":-2},{"t":2012.343,"v":7.6},{"t":2012.352,"v":-7.4},{"t":2012.362,"v":-2},{"t":2012.375,"v":40.1},{"t":2012.383,"v":-7},{"t":2012.393,"v":-1.5},{"t":2012.403,"v":-7},{"t":2012.412,"v":0},{"t":2012.421,"v":-6},{"t":2012.435,"v":9.7},{"t":2012.443,"v":-5},{"t":2012.455,"v":19.8},{"t":2012.464,"v":-4},{"t":2012.478,"v":18.9},{"t":2012.486,"v":-5.5},{"t":2012.496,"v":2},{"t":2012.505,"v":-6},{"t":2012.515,"v":6.7},{"t":2012.524,"v":-6},{"t":2012.535,"v":1.5},{"t":2012.542,"v":-6},{"t":2012.549,"v":1.4},{"t":2012.558,"v":-5.5},{"t":2012.569,"v":0.5},{"t":2012.581,"v":-0.4},{"t":2012.591,"v":-5},{"t":2012.604,"v":1},{"t":2012.612,"v":-5},{"t":2012.621,"v":17.1},{"t":2012.632,"v":-4},{"t":2012.643,"v":1.5},{"t":2012.654,"v":-4.5},{"t":2012.666,"v":9.6},{"t":2012.676,"v":-4.5},{"t":2012.688,"v":1},{"t":2012.698,"v":-5},{"t":2012.71,"v":10.2},{"t":2012.722,"v":-4},{"t":2012.735,"v":12.3},{"t":2012.745,"v":-3.5},{"t":2012.756,"v":1.5},{"t":2012.767,"v":25.1},{"t":2012.776,"v":-4},{"t":2012.787,"v":1},{"t":2012.798,"v":4.9},{"t":2012.808,"v":-3},{"t":2012.821,"v":8.9},{"t":2012.831,"v":-3},{"t":2012.841,"v":2},{"t":2012.851,"v":-3.5},{"t":2012.861,"v":2},{"t":2012.869,"v":-3.5},{"t":2012.878,"v":15.3},{"t":2012.888,"v":-3.5},{"t":2012.898,"v":1.5},{"t":2012.908,"v":-3.5},{"t":2012.919,"v":1},{"t":2012.929,"v":6.5},{"t":2012.938,"v":-3},{"t":2012.948,"v":1.5},{"t":2012.956,"v":-3},{"t":2012.963,"v":32.6},{"t":2012.972,"v":-2.5},{"t":2012.982,"v":2},{"t":2012.991,"v":-3},
{"t":2013.01,"v":15.5},{"t":2013.02,"v":-3.5},{"t":2013.032,"v":2.5},{"t":2013.044,"v":5},{"t":2013.055,"v":-4},{"t":2013.066,"v":2},{"t":2013.076,"v":-4.5},{"t":2013.084,"v":10.9},{"t":2013.094,"v":-4},{"t":2013.104,"v":2},{"t":2013.115,"v":12.4},{"t":2013.124,"v":-3.5},{"t":2013.136,"v":16.2},{"t":2013.146,"v":-5},{"t":2013.157,"v":2.5},{"t":2013.168,"v":-5},{"t":2013.184,"v":3.8},{"t":2013.193,"v":-5.5},{"t":2013.202,"v":0},{"t":2013.212,"v":5.2},{"t":2013.221,"v":-6.5},{"t":2013.231,"v":-1.5},{"t":2013.241,"v":-7},{"t":2013.251,"v":-1},{"t":2013.262,"v":-7},{"t":2013.272,"v":-1},{"t":2013.283,"v":-7.2},{"t":2013.293,"v":-2},{"t":2013.304,"v":-7.2},{"t":2013.318,"v":1.2},{"t":2013.327,"v":-7.4},{"t":2013.336,"v":-2},{"t":2013.343,"v":7.6},{"t":2013.352,"v":-7.4},{"t":2013.362,"v":-2},{"t":2013.375,"v":40.1},{"t":2013.383,"v":-7},{"t":2013.393,"v":-1.5},{"t":2013.403,"v":-7},{"t":2013.412,"v":0},{"t":2013.421,"v":-6},{"t":2013.435,"v":9.7},{"t":2013.443,"v":-5},{"t":2013.455,"v":19.8},{"t":2013.464,"v":-4},{"t":2013.478,"v":18.9},{"t":2013.486,"v":-5.5},{"t":2013.496,"v":2},{"t":2013.505,"v":-6},{"t":2013.515,"v":6.7},{"t":2013.524,"v":-6},{"t":2013.535,"v":1.5},{"t":2013.542,"v":-6},{"t":2013.549,"v":1.4},{"t":2013.558,"v":-5.5},{"t":2013.569,"v":0.5},{"t":2013.581,"v":-0.4},{"t":2013.591,"v":-5},{"t":2013.604,"v":1},{"t":2013.612,"v":-5},{"t":2013.621,"v":17.1},{"t":2013.632,"v":-4},{"t":2013.643,"v":1.5},{"t":2013.654,"v":-4.5},{"t":2013.666,"v":9.6},{"t":2013.676,"v":-4.5},{"t":2013.688,"v":1},{"t":2013.698,"v":-5},{"t":2013.71,"v":10.2},{"t":2013.722,"v":-4},{"t":2013.735,"v":12.3},{"t":2013.745,"v":-3.5},{"t":2013.756,"v":1.5},{"t":2013.767,"v":25.1},{"t":2013.776,"v":-4},{"t":2013.787,"v":1},{"t":2013.798,"v":4.9},{"t":2013.808,"v":-3},{"t":2013.821,"v":8.9},{"t":2013.831,"v":-3},{"t":2013.841,"v":2},{"t":2013.851,"v":-3.5},{"t":2013.861,"v":2},{"t":2013.869,"v":-3.5},{"t":2013.878,"v":15.3},{"t":2013.888,"v":-3.5},{"t":2013.898,"v":1.5},{"t":2013.908,"v":-3.5},{"t":2013.919,"v":1},{"t":2013.929,"v":6.5},{"t":2013.938,"v":-3},{"t":2013.948,"v":1.5},{"t":2013.956,"v":-3},{"t":2013.963,"v":32.6},{"t":2013.972,"v":-2.5},{"t":2013.982,"v":2},{"t":2013.991,"v":-3},
{"t":2014.01,"v":15.5},{"t":2014.02,"v":-3.5},{"t":2014.032,"v":2.5},{"t":2014.044,"v":5},{"t":2014.055,"v":-4},{"t":2014.066,"v":2},{"t":2014.076,"v":-4.5},{"t":2014.084,"v":10.9},{"t":2014.094,"v":-4},{"t":2014.104,"v":2},{"t":2014.115,"v":12.4},{"t":2014.124,"v":-3.5},{"t":2014.136,"v":16.2},{"t":2014.146,"v":-5},{"t":2014.157,"v":2.5},{"t":2014.168,"v":-5},{"t":2014.184,"v":3.8},{"t":2014.193,"v":-5.5},{"t":2014.202,"v":0},{"t":2014.212,"v":5.2},{"t":2014.221,"v":-6.5},{"t":2014.231,"v":-1.5},{"t":2014.241,"v":-7},{"t":2014.251,"v":-1},{"t":2014.262,"v":-7},{"t":2014.272,"v":-1},{"t":2014.283,"v":-7.2},{"t":2014.293,"v":-2},{"t":2014.304,"v":-7.2},{"t":2014.318,"v":1.2},{"t":2014.327,"v":-7.4},{"t":2014.336,"v":-2},{"t":2014.343,"v":7.6},{"t":2014.352,"v":-7.4},{"t":2014.362,"v":-2},{"t":2014.375,"v":40.1},{"t":2014.383,"v":-7},{"t":2014.393,"v":-1.5},{"t":2014.403,"v":-7},{"t":2014.412,"v":0},{"t":2014.421,"v":-6},{"t":2014.435,"v":9.7},{"t":2014.443,"v":-5},{"t":2014.455,"v":19.8},{"t":2014.464,"v":-4},{"t":2014.478,"v":18.9},{"t":2014.486,"v":-5.5},{"t":2014.496,"v":2},{"t":2014.505,"v":-6},{"t":2014.515,"v":6.7},{"t":2014.524,"v":-6},{"t":2014.535,"v":1.5},{"t":2014.542,"v":-6},{"t":2014.549,"v":1.4},{"t":2014.558,"v":-5.5},{"t":2014.569,"v":0.5},{"t":2014.581,"v":-0.4},{"t":2014.596,"v":-5}],
"random":[
{"t":2005.56,"v":6},{"t":2005.575,"v":-4},{"t":2005.59,"v":10},{"t":2005.605,"v":-7},{"t":2005.62,"v":2},{"t":2005.635,"v":-10},{"t":2005.65,"v":8},{"t":2005.665,"v":-5},{"t":2005.68,"v":13},{"t":2005.695,"v":-8},{"t":2005.71,"v":4},{"t":2005.725,"v":-6},{"t":2005.74,"v":9},{"t":2005.755,"v":-11},{"t":2005.77,"v":5},{"t":2005.785,"v":-3},{"t":2005.8,"v":11},{"t":2005.815,"v":-9},{"t":2005.83,"v":6},{"t":2005.845,"v":-13},{"t":2005.86,"v":3},{"t":2005.875,"v":-7},{"t":2005.89,"v":10},{"t":2005.905,"v":-5},{"t":2005.92,"v":8},{"t":2005.935,"v":-12},{"t":2005.95,"v":4},{"t":2005.965,"v":-8},{"t":2005.98,"v":6},{"t":2005.995,"v":-5},
{"t":2006.005,"v":-6},{"t":2006.02,"v":5},{"t":2006.035,"v":-10},{"t":2006.05,"v":8},{"t":2006.065,"v":-4},{"t":2006.08,"v":11},{"t":2006.095,"v":-12},{"t":2006.11,"v":3},{"t":2006.125,"v":-7},{"t":2006.14,"v":9},{"t":2006.155,"v":-5},{"t":2006.17,"v":6},{"t":2006.185,"v":-9},{"t":2006.2,"v":4},{"t":2006.215,"v":-3},{"t":2006.23,"v":10},{"t":2006.245,"v":-8},{"t":2006.26,"v":5},{"t":2006.275,"v":-11},{"t":2006.29,"v":7},{"t":2006.305,"v":-6},{"t":2006.32,"v":12},{"t":2006.335,"v":-4},{"t":2006.35,"v":8},{"t":2006.365,"v":-10},{"t":2006.38,"v":6},{"t":2006.395,"v":-5},{"t":2006.41,"v":9},{"t":2006.425,"v":-13},{"t":2006.44,"v":4},{"t":2006.455,"v":-7},{"t":2006.47,"v":10},{"t":2006.485,"v":-6},{"t":2006.5,"v":7},{"t":2006.515,"v":-9},{"t":2006.53,"v":3},{"t":2006.545,"v":-12},{"t":2006.56,"v":6},{"t":2006.575,"v":-4},{"t":2006.59,"v":10},{"t":2006.605,"v":-7},{"t":2006.62,"v":2},{"t":2006.635,"v":-10},{"t":2006.65,"v":8},{"t":2006.665,"v":-5},{"t":2006.68,"v":13},{"t":2006.695,"v":-8},{"t":2006.71,"v":4},{"t":2006.725,"v":-6},{"t":2006.74,"v":9},{"t":2006.755,"v":-11},{"t":2006.77,"v":5},{"t":2006.785,"v":-3},{"t":2006.8,"v":11},{"t":2006.815,"v":-9},{"t":2006.83,"v":6},{"t":2006.845,"v":-13},{"t":2006.86,"v":3},{"t":2006.875,"v":-7},{"t":2006.89,"v":10},{"t":2006.905,"v":-5},{"t":2006.92,"v":8},{"t":2006.935,"v":-12},{"t":2006.95,"v":4},{"t":2006.965,"v":-8},{"t":2006.98,"v":6},{"t":2006.995,"v":-5},
{"t":2007.005,"v":-6},{"t":2007.02,"v":5},{"t":2007.035,"v":-10},{"t":2007.05,"v":8},{"t":2007.065,"v":-4},{"t":2007.08,"v":11},{"t":2007.095,"v":-12},{"t":2007.11,"v":3},{"t":2007.125,"v":-7},{"t":2007.14,"v":9},{"t":2007.155,"v":-5},{"t":2007.17,"v":6},{"t":2007.185,"v":-9},{"t":2007.2,"v":4},{"t":2007.215,"v":-3},{"t":2007.23,"v":10},{"t":2007.245,"v":-8},{"t":2007.26,"v":5},{"t":2007.275,"v":-11},{"t":2007.29,"v":7},{"t":2007.305,"v":-6},{"t":2007.32,"v":12},{"t":2007.335,"v":-4},{"t":2007.35,"v":8},{"t":2007.365,"v":-10},{"t":2007.38,"v":6},{"t":2007.395,"v":-5},{"t":2007.41,"v":9},{"t":2007.425,"v":-13},{"t":2007.44,"v":4},{"t":2007.455,"v":-7},{"t":2007.47,"v":10},{"t":2007.485,"v":-6},{"t":2007.5,"v":7},{"t":2007.515,"v":-9},{"t":2007.53,"v":3},{"t":2007.545,"v":-12},{"t":2007.56,"v":6},{"t":2007.575,"v":-4},{"t":2007.59,"v":10},{"t":2007.605,"v":-7},{"t":2007.62,"v":2},{"t":2007.635,"v":-10},{"t":2007.65,"v":8},{"t":2007.665,"v":-5},{"t":2007.68,"v":13},{"t":2007.695,"v":-8},{"t":2007.71,"v":4},{"t":2007.725,"v":-6},{"t":2007.74,"v":9},{"t":2007.755,"v":-11},{"t":2007.77,"v":5},{"t":2007.785,"v":-3},{"t":2007.8,"v":11},{"t":2007.815,"v":-9},{"t":2007.83,"v":6},{"t":2007.845,"v":-13},{"t":2007.86,"v":3},{"t":2007.875,"v":-7},{"t":2007.89,"v":10},{"t":2007.905,"v":-5},{"t":2007.92,"v":8},{"t":2007.935,"v":-12},{"t":2007.95,"v":4},{"t":2007.965,"v":-8},{"t":2007.98,"v":6},{"t":2007.995,"v":-5},
{"t":2008.005,"v":-6},{"t":2008.02,"v":5},{"t":2008.035,"v":-10},{"t":2008.05,"v":8},{"t":2008.065,"v":-4},{"t":2008.08,"v":11},{"t":2008.095,"v":-12},{"t":2008.11,"v":3},{"t":2008.125,"v":-7},{"t":2008.14,"v":9},{"t":2008.155,"v":-5},{"t":2008.17,"v":6},{"t":2008.185,"v":-9},{"t":2008.2,"v":4},{"t":2008.215,"v":-3},{"t":2008.23,"v":10},{"t":2008.245,"v":-8},{"t":2008.26,"v":5},{"t":2008.275,"v":-11},{"t":2008.29,"v":7},{"t":2008.305,"v":-6},{"t":2008.32,"v":12},{"t":2008.335,"v":-4},{"t":2008.35,"v":8},{"t":2008.365,"v":-10},{"t":2008.38,"v":6},{"t":2008.395,"v":-5},{"t":2008.41,"v":9},{"t":2008.425,"v":-13},{"t":2008.44,"v":4},{"t":2008.455,"v":-7},{"t":2008.47,"v":10},{"t":2008.485,"v":-6},{"t":2008.5,"v":7},{"t":2008.515,"v":-9},{"t":2008.53,"v":3},{"t":2008.545,"v":-12},{"t":2008.56,"v":6},{"t":2008.575,"v":-4},{"t":2008.59,"v":10},{"t":2008.605,"v":-7},{"t":2008.62,"v":2},{"t":2008.635,"v":-10},{"t":2008.65,"v":8},{"t":2008.665,"v":-5},{"t":2008.68,"v":13},{"t":2008.695,"v":-8},{"t":2008.71,"v":4},{"t":2008.725,"v":-6},{"t":2008.74,"v":9},{"t":2008.755,"v":-11},{"t":2008.77,"v":5},{"t":2008.785,"v":-3},{"t":2008.8,"v":11},{"t":2008.815,"v":-9},{"t":2008.83,"v":6},{"t":2008.845,"v":-13},{"t":2008.86,"v":3},{"t":2008.875,"v":-7},{"t":2008.89,"v":10},{"t":2008.905,"v":-5},{"t":2008.92,"v":8},{"t":2008.935,"v":-12},{"t":2008.95,"v":4},{"t":2008.965,"v":-8},{"t":2008.98,"v":6},{"t":2008.995,"v":-5},
{"t":2009.005,"v":-6},{"t":2009.02,"v":5},{"t":2009.035,"v":-10},{"t":2009.05,"v":8},{"t":2009.065,"v":-4},{"t":2009.08,"v":11},{"t":2009.095,"v":-12},{"t":2009.11,"v":3},{"t":2009.125,"v":-7},{"t":2009.14,"v":9},{"t":2009.155,"v":-5},{"t":2009.17,"v":6},{"t":2009.185,"v":-9},{"t":2009.2,"v":4},{"t":2009.215,"v":-3},{"t":2009.23,"v":10},{"t":2009.245,"v":-8},{"t":2009.26,"v":5},{"t":2009.275,"v":-11},{"t":2009.29,"v":7},{"t":2009.305,"v":-6},{"t":2009.32,"v":12},{"t":2009.335,"v":-4},{"t":2009.35,"v":8},{"t":2009.365,"v":-10},{"t":2009.38,"v":6},{"t":2009.395,"v":-5},{"t":2009.41,"v":9},{"t":2009.425,"v":-13},{"t":2009.44,"v":4},{"t":2009.455,"v":-7},{"t":2009.47,"v":10},{"t":2009.485,"v":-6},{"t":2009.5,"v":7},{"t":2009.515,"v":-9},{"t":2009.53,"v":3},{"t":2009.545,"v":-12},{"t":2009.56,"v":6},{"t":2009.575,"v":-4},{"t":2009.59,"v":10},{"t":2009.605,"v":-7},{"t":2009.62,"v":2},{"t":2009.635,"v":-10},{"t":2009.65,"v":8},{"t":2009.665,"v":-5},{"t":2009.68,"v":13},{"t":2009.695,"v":-8},{"t":2009.71,"v":4},{"t":2009.725,"v":-6},{"t":2009.74,"v":9},{"t":2009.755,"v":-11},{"t":2009.77,"v":5},{"t":2009.785,"v":-3},{"t":2009.8,"v":11},{"t":2009.815,"v":-9},{"t":2009.83,"v":6},{"t":2009.845,"v":-13},{"t":2009.86,"v":3},{"t":2009.875,"v":-7},{"t":2009.89,"v":10},{"t":2009.905,"v":-5},{"t":2009.92,"v":8},{"t":2009.935,"v":-12},{"t":2009.95,"v":4},{"t":2009.965,"v":-8},{"t":2009.98,"v":6},{"t":2009.995,"v":-5},
{"t":2010.005,"v":-6},{"t":2010.02,"v":5},{"t":2010.035,"v":-10},{"t":2010.05,"v":8},{"t":2010.065,"v":-4},{"t":2010.08,"v":11},{"t":2010.095,"v":-12},{"t":2010.11,"v":3},{"t":2010.125,"v":-7},{"t":2010.14,"v":9},{"t":2010.155,"v":-5},{"t":2010.17,"v":6},{"t":2010.185,"v":-9},{"t":2010.2,"v":4},{"t":2010.215,"v":-3},{"t":2010.23,"v":10},{"t":2010.245,"v":-8},{"t":2010.26,"v":5},{"t":2010.275,"v":-11},{"t":2010.29,"v":7},{"t":2010.305,"v":-6},{"t":2010.32,"v":12},{"t":2010.335,"v":-4},{"t":2010.35,"v":8},{"t":2010.365,"v":-10},{"t":2010.38,"v":6},{"t":2010.395,"v":-5},{"t":2010.41,"v":9},{"t":2010.425,"v":-13},{"t":2010.44,"v":4},{"t":2010.455,"v":-7},{"t":2010.47,"v":10},{"t":2010.485,"v":-6},{"t":2010.5,"v":7},{"t":2010.515,"v":-9},{"t":2010.53,"v":3},{"t":2010.545,"v":-12},{"t":2010.56,"v":6},{"t":2010.575,"v":-4},{"t":2010.59,"v":10},{"t":2010.605,"v":-7},{"t":2010.62,"v":2},{"t":2010.635,"v":-10},{"t":2010.65,"v":8},{"t":2010.665,"v":-5},{"t":2010.68,"v":13},{"t":2010.695,"v":-8},{"t":2010.71,"v":4},{"t":2010.725,"v":-6},{"t":2010.74,"v":9},{"t":2010.755,"v":-11},{"t":2010.77,"v":5},{"t":2010.785,"v":-3},{"t":2010.8,"v":11},{"t":2010.815,"v":-9},{"t":2010.83,"v":6},{"t":2010.845,"v":-13},{"t":2010.86,"v":3},{"t":2010.875,"v":-7},{"t":2010.89,"v":10},{"t":2010.905,"v":-5},{"t":2010.92,"v":8},{"t":2010.935,"v":-12},{"t":2010.95,"v":4},{"t":2010.965,"v":-8},{"t":2010.98,"v":6},{"t":2010.995,"v":-5},
{"t":2011.005,"v":-6},{"t":2011.02,"v":5},{"t":2011.035,"v":-10},{"t":2011.05,"v":8},{"t":2011.065,"v":-4},{"t":2011.08,"v":11},{"t":2011.095,"v":-12},{"t":2011.11,"v":3},{"t":2011.125,"v":-7},{"t":2011.14,"v":9},{"t":2011.155,"v":-5},{"t":2011.17,"v":6},{"t":2011.185,"v":-9},{"t":2011.2,"v":4},{"t":2011.215,"v":-3},{"t":2011.23,"v":10},{"t":2011.245,"v":-8},{"t":2011.26,"v":5},{"t":2011.275,"v":-11},{"t":2011.29,"v":7},{"t":2011.305,"v":-6},{"t":2011.32,"v":12},{"t":2011.335,"v":-4},{"t":2011.35,"v":8},{"t":2011.365,"v":-10},{"t":2011.38,"v":6},{"t":2011.395,"v":-5},{"t":2011.41,"v":9},{"t":2011.425,"v":-13},{"t":2011.44,"v":4},{"t":2011.455,"v":-7},{"t":2011.47,"v":10},{"t":2011.485,"v":-6},{"t":2011.5,"v":7},{"t":2011.515,"v":-9},{"t":2011.53,"v":3},{"t":2011.545,"v":-12},{"t":2011.56,"v":6},{"t":2011.575,"v":-4},{"t":2011.59,"v":10},{"t":2011.605,"v":-7},{"t":2011.62,"v":2},{"t":2011.635,"v":-10},{"t":2011.65,"v":8},{"t":2011.665,"v":-5},{"t":2011.68,"v":13},{"t":2011.695,"v":-8},{"t":2011.71,"v":4},{"t":2011.725,"v":-6},{"t":2011.74,"v":9},{"t":2011.755,"v":-11},{"t":2011.77,"v":5},{"t":2011.785,"v":-3},{"t":2011.8,"v":11},{"t":2011.815,"v":-9},{"t":2011.83,"v":6},{"t":2011.845,"v":-13},{"t":2011.86,"v":3},{"t":2011.875,"v":-7},{"t":2011.89,"v":10},{"t":2011.905,"v":-5},{"t":2011.92,"v":8},{"t":2011.935,"v":-12},{"t":2011.95,"v":4},{"t":2011.965,"v":-8},{"t":2011.98,"v":6},{"t":2011.995,"v":-5},
{"t":2012.005,"v":-6},{"t":2012.02,"v":5},{"t":2012.035,"v":-10},{"t":2012.05,"v":8},{"t":2012.065,"v":-4},{"t":2012.08,"v":11},{"t":2012.095,"v":-12},{"t":2012.11,"v":3},{"t":2012.125,"v":-7},{"t":2012.14,"v":9},{"t":2012.155,"v":-5},{"t":2012.17,"v":6},{"t":2012.185,"v":-9},{"t":2012.2,"v":4},{"t":2012.215,"v":-3},{"t":2012.23,"v":10},{"t":2012.245,"v":-8},{"t":2012.26,"v":5},{"t":2012.275,"v":-11},{"t":2012.29,"v":7},{"t":2012.305,"v":-6},{"t":2012.32,"v":12},{"t":2012.335,"v":-4},{"t":2012.35,"v":8},{"t":2012.365,"v":-10},{"t":2012.38,"v":6},{"t":2012.395,"v":-5},{"t":2012.41,"v":9},{"t":2012.425,"v":-13},{"t":2012.44,"v":4},{"t":2012.455,"v":-7},{"t":2012.47,"v":10},{"t":2012.485,"v":-6},{"t":2012.5,"v":7},{"t":2012.515,"v":-9},{"t":2012.53,"v":3},{"t":2012.545,"v":-12},{"t":2012.56,"v":6},{"t":2012.575,"v":-4},{"t":2012.59,"v":10},{"t":2012.605,"v":-7},{"t":2012.62,"v":2},{"t":2012.635,"v":-10},{"t":2012.65,"v":8},{"t":2012.665,"v":-5},{"t":2012.68,"v":13},{"t":2012.695,"v":-8},{"t":2012.71,"v":4},{"t":2012.725,"v":-6},{"t":2012.74,"v":9},{"t":2012.755,"v":-11},{"t":2012.77,"v":5},{"t":2012.785,"v":-3},{"t":2012.8,"v":11},{"t":2012.815,"v":-9},{"t":2012.83,"v":6},{"t":2012.845,"v":-13},{"t":2012.86,"v":3},{"t":2012.875,"v":-7},{"t":2012.89,"v":10},{"t":2012.905,"v":-5},{"t":2012.92,"v":8},{"t":2012.935,"v":-12},{"t":2012.95,"v":4},{"t":2012.965,"v":-8},{"t":2012.98,"v":6},{"t":2012.995,"v":-5},
{"t":2013.005,"v":-6},{"t":2013.02,"v":5},{"t":2013.035,"v":-10},{"t":2013.05,"v":8},{"t":2013.065,"v":-4},{"t":2013.08,"v":11},{"t":2013.095,"v":-12},{"t":2013.11,"v":3},{"t":2013.125,"v":-7},{"t":2013.14,"v":9},{"t":2013.155,"v":-5},{"t":2013.17,"v":6},{"t":2013.185,"v":-9},{"t":2013.2,"v":4},{"t":2013.215,"v":-3},{"t":2013.23,"v":10},{"t":2013.245,"v":-8},{"t":2013.26,"v":5},{"t":2013.275,"v":-11},{"t":2013.29,"v":7},{"t":2013.305,"v":-6},{"t":2013.32,"v":12},{"t":2013.335,"v":-4},{"t":2013.35,"v":8},{"t":2013.365,"v":-10},{"t":2013.38,"v":6},{"t":2013.395,"v":-5},{"t":2013.41,"v":9},{"t":2013.425,"v":-13},{"t":2013.44,"v":4},{"t":2013.455,"v":-7},{"t":2013.47,"v":10},{"t":2013.485,"v":-6},{"t":2013.5,"v":7},{"t":2013.515,"v":-9},{"t":2013.53,"v":3},{"t":2013.545,"v":-12},{"t":2013.56,"v":6},{"t":2013.575,"v":-4},{"t":2013.59,"v":10},{"t":2013.605,"v":-7},{"t":2013.62,"v":2},{"t":2013.635,"v":-10},{"t":2013.65,"v":8},{"t":2013.665,"v":-5},{"t":2013.68,"v":13},{"t":2013.695,"v":-8},{"t":2013.71,"v":4},{"t":2013.725,"v":-6},{"t":2013.74,"v":9},{"t":2013.755,"v":-11},{"t":2013.77,"v":5},{"t":2013.785,"v":-3},{"t":2013.8,"v":11},{"t":2013.815,"v":-9},{"t":2013.83,"v":6},{"t":2013.845,"v":-13},{"t":2013.86,"v":3},{"t":2013.875,"v":-7},{"t":2013.89,"v":10},{"t":2013.905,"v":-5},{"t":2013.92,"v":8},{"t":2013.935,"v":-12},{"t":2013.95,"v":4},{"t":2013.965,"v":-8},{"t":2013.98,"v":6},{"t":2013.995,"v":-5},
{"t":2014.005,"v":-6},{"t":2014.02,"v":5},{"t":2014.035,"v":-10},{"t":2014.05,"v":8},{"t":2014.065,"v":-4},{"t":2014.08,"v":11},
{"t":2005.524,"v":59},{"t":2005.551,"v":31},{"t":2005.637,"v":-22},{"t":2005.723,"v":-22},{"t":2005.774,"v":173},{"t":2005.946,"v":30},{"t":2005.969,"v":-34},{"t":2006.072,"v":35},{"t":2006.288,"v":28},{"t":2006.381,"v":-50},{"t":2006.459,"v":184},{"t":2006.483,"v":40},{"t":2006.637,"v":32},{"t":2006.801,"v":53},{"t":2006.826,"v":96},{"t":2006.938,"v":28},{"t":2006.966,"v":-35},{"t":2007.116,"v":115},{"t":2007.377,"v":-47},{"t":2007.469,"v":-25},{"t":2007.623,"v":58},{"t":2007.866,"v":67},{"t":2007.897,"v":38},{"t":2007.966,"v":-34},{"t":2008.086,"v":37},{"t":2008.144,"v":144},{"t":2008.377,"v":-49},{"t":2008.462,"v":-27},{"t":2008.469,"v":24},{"t":2008.702,"v":38},{"t":2008.771,"v":40},{"t":2008.959,"v":-39},{"t":2009.046,"v":43},{"t":2009.182,"v":63},{"t":2009.216,"v":72},{"t":2009.37,"v":-50},{"t":2009.473,"v":-33},{"t":2009.541,"v":31},{"t":2009.592,"v":-13},{"t":2009.661,"v":84},{"t":2009.712,"v":109},{"t":2009.781,"v":-27},{"t":2009.925,"v":28},{"t":2009.969,"v":-37},{"t":2010.141,"v":-27},{"t":2010.226,"v":19},{"t":2010.312,"v":37},{"t":2010.373,"v":-49},{"t":2010.442,"v":113},{"t":2010.534,"v":25},{"t":2010.774,"v":-30},{"t":2010.877,"v":91},{"t":2010.962,"v":-38},{"t":2010.979,"v":37},{"t":2011.134,"v":-27},{"t":2011.253,"v":25},{"t":2011.339,"v":99},{"t":2011.373,"v":334},{"t":2011.449,"v":-28},{"t":2011.579,"v":41},{"t":2011.621,"v":85},{"t":2011.767,"v":-31},{"t":2011.853,"v":46},{"t":2011.956,"v":-38},{"t":2011.997,"v":17},{"t":2012.103,"v":35},{"t":2012.202,"v":25},{"t":2012.366,"v":-48},{"t":2012.452,"v":-27},{"t":2012.476,"v":175},{"t":2012.631,"v":37},{"t":2012.726,"v":91},{"t":2012.76,"v":-30},{"t":2012.839,"v":22},{"t":2012.956,"v":-39},{"t":2013.086,"v":77},{"t":2013.12,"v":-16},{"t":2013.366,"v":-50},{"t":2013.411,"v":72},{"t":2013.462,"v":-30},{"t":2013.548,"v":25},{"t":2013.616,"v":-27},{"t":2013.719,"v":40},{"t":2013.753,"v":-30},{"t":2013.866,"v":74},{"t":2013.914,"v":66},{"t":2013.959,"v":285},{"t":2014.003,"v":72},{"t":2014.096,"v":-5}]
},
"hconcat":[
{"width":466,"height":3008,"data":{"name":"observed"},"mark":{"type":"line","color":"black","strokeWidth":2.4},
"encoding":{"x":{"field":"v","type":"quantitative","scale":{"domain":[-14.3,401.8],"reverse":true,"nice":false,"zero":false},"axis":{"values":[0,100,200,300,400],"title":"observed","labelAngle":180,"labelAlign":"center","labelBaseline":"alphabetic","labelPadding":27,"titleAngle":180,"titleAlign":"center","titleBaseline":"alphabetic","titleX":233,"titleY":125}},
"y":{"field":"t","type":"quantitative","scale":{"domain":[2004.627,2014.928],"nice":false,"zero":false},"axis":null},
"order":{"field":"t","type":"quantitative"}}},
{"width":466,"height":3008,"data":{"name":"trend"},"mark":{"type":"line","color":"black","strokeWidth":2.4},
"encoding":{"x":{"field":"v","type":"quantitative","scale":{"domain":[6.28,16.55],"reverse":true,"nice":false,"zero":false},"axis":{"values":[8,10,12,14,16],"title":"trend","labelAngle":180,"labelAlign":"center","labelBaseline":"alphabetic","labelPadding":27,"titleAngle":180,"titleAlign":"center","titleBaseline":"alphabetic","titleX":233,"titleY":125}},
"y":{"field":"t","type":"quantitative","scale":{"domain":[2004.627,2014.928],"nice":false,"zero":false},"axis":null},
"order":{"field":"t","type":"quantitative"}}},
{"width":466,"height":3008,"data":{"name":"seasonal"},"mark":{"type":"line","color":"black","strokeWidth":2.4},
"encoding":{"x":{"field":"v","type":"quantitative","scale":{"domain":[-9.3,41.75],"reverse":true,"nice":false,"zero":false},"axis":{"values":[0,10,20,30,40],"title":"seasonal","labelAngle":180,"labelAlign":"center","labelBaseline":"alphabetic","labelPadding":27,"titleAngle":180,"titleAlign":"center","titleBaseline":"alphabetic","titleX":233,"titleY":125}},
"y":{"field":"t","type":"quantitative","scale":{"domain":[2004.627,2014.928],"nice":false,"zero":false},"axis":null},
"order":{"field":"t","type":"quantitative"}}},
{"width":466,"height":3008,"data":{"name":"random"},"mark":{"type":"line","color":"black","strokeWidth":2.4},
"encoding":{"x":{"field":"v","type":"quantitative","scale":{"domain":[-64.6,347.8],"reverse":true,"nice":false,"zero":false},"axis":{"values":[0,100,200,300],"title":"random","labelAngle":180,"labelAlign":"center","labelBaseline":"alphabetic","labelPadding":27,"titleAngle":180,"titleAlign":"center","titleBaseline":"alphabetic","titleX":233,"titleY":125}},
"y":{"field":"t","type":"quantitative","scale":{"domain":[2004.627,2014.928],"nice":false,"zero":false},"axis":{"orient":"right","values":[2006,2008,2010,2012,2014],"format":"d","title":"Time","labelAngle":-90,"labelAlign":"center","labelBaseline":"alphabetic","labelPadding":52,"titleAngle":-90,"titleAlign":"center","titleBaseline":"alphabetic","titleX":149,"titleY":1504}},
"order":{"field":"t","type":"quantitative"}}}
]
}
